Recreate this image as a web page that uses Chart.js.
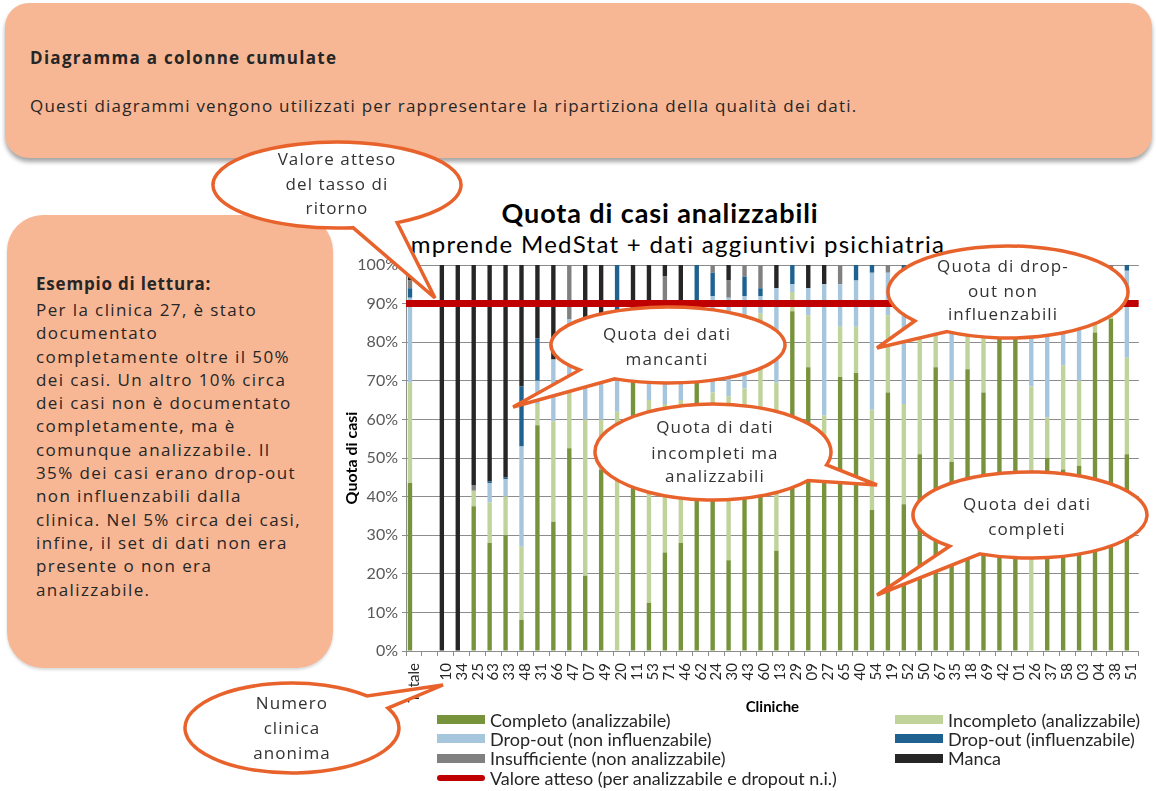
<!DOCTYPE html>
<html lang="it">
<head>
<meta charset="utf-8">
<title>Quota di casi analizzabili</title>
<script src="https://cdn.jsdelivr.net/npm/chart.js@4.4.1/dist/chart.umd.min.js"></script>
<style>
  body { margin: 0; width: 1156px; height: 791px; position: relative; overflow: hidden; background: #fff; font-family: "Open Sans", sans-serif; color: #262626; }
  .box { position: absolute; background: #f7b795; }
  #intro { left: 5px; top: 3px; width: 1147px; height: 155px; border-radius: 24px; box-shadow: 0 4px 4px rgba(0,0,0,0.35); }
  #intro .head { position: absolute; left: 25px; top: 43px; font-size: 17px; font-weight: 700; letter-spacing: 1.3px; line-height: 24px; }
  #intro .text { position: absolute; left: 25px; top: 91px; font-size: 17px; letter-spacing: 1.2px; line-height: 24px; }
  #example { left: 7px; top: 215px; width: 326px; height: 453px; border-radius: 36px; box-shadow: 0 2px 3px rgba(0,0,0,0.15); }
  #example .head { position: absolute; left: 29px; top: 57px; font-size: 17px; font-weight: 700; letter-spacing: 0.8px; line-height: 24px; }
  #example .text { position: absolute; left: 29px; top: 83px; font-size: 17px; letter-spacing: 1.4px; line-height: 23.3px; white-space: nowrap; }
  .chart-title { position: absolute; left: 300px; width: 720px; text-align: center; font-family: Lato, sans-serif; color: #000; }
  #title { top: 197px; font-size: 27px; font-weight: 700; letter-spacing: 0.9px; line-height: 32px; }
  #subtitle { top: 229px; left: 302px; font-size: 24px; letter-spacing: 1.3px; line-height: 30px; }
  #chart { position: absolute; left: 335px; top: 250px; }
  #legend { position: absolute; left: 437px; top: 710px; display: grid; grid-template-columns: 458px auto; font-family: Lato, sans-serif; font-size: 18px; color: #262626; }
  #legend .item { height: 19.3px; display: flex; align-items: center; white-space: nowrap; }
  #legend .swatch { width: 48px; height: 9px; margin-right: 5px; flex: none; }
  #legend .swatch.line { height: 6px; border-radius: 3px; }
  #notes { position: absolute; left: 0; top: 0; }
</style>
</head>
<body>

<div class="box" id="intro">
  <div class="head">Diagramma a colonne cumulate</div>
  <div class="text">Questi diagrammi vengono utilizzati per rappresentare la ripartiziona della qualità dei dati.</div>
</div>

<div class="box" id="example">
  <div class="head">Esempio di lettura:</div>
  <div class="text">Per la clinica 27, è stato<br>documentato<br>completamente oltre il 50%<br>dei casi. Un altro 10% circa<br>dei casi non è documentato<br>completamente, ma è<br>comunque analizzabile. Il<br>35% dei casi erano drop-out<br>non influenzabili dalla<br>clinica. Nel 5% circa dei casi,<br>infine, il set di dati non era<br>presente o non era<br>analizzabile.</div>
</div>

<div class="chart-title" id="title">Quota di casi analizzabili</div>
<div class="chart-title" id="subtitle">Comprende MedStat + dati aggiuntivi psichiatria</div>

<canvas id="chart" width="821" height="541"></canvas>
<div id="legend"></div>
<svg id="notes" width="1156" height="791"></svg>

<script>
// cliniche (anonime) in ordine di visualizzazione
const clinics = ['Totale', '', '10', '34', '25', '63', '33', '48', '31', '66', '47', '07', '49', '20', '11', '53',
  '71', '46', '62', '24', '30', '43', '60', '13', '29', '09', '27', '65', '40', '54', '19', '52', '50', '67',
  '35', '18', '69', '42', '01', '26', '37', '58', '03', '04', '38', '51'];

// quote in % per clinica
const completo = [43.5, 0, 0, 0, 37.5, 28, 30, 8, 58.5, 33.5, 52.5, 19.5, 47, 0, 72, 12.5,
  25.5, 28, 73, 62, 23.5, 60, 60, 26, 88, 73.5, 52, 71, 72, 36.5, 67, 38, 51, 73.5,
  49, 73, 67, 82, 81, 0, 50, 47, 48, 82.5, 86, 51];
const incompleto = [26, 0, 0, 0, 4, 10.5, 10, 19, 5.5, 26, 14.5, 40.5, 13, 62, 4, 52.5,
  38.5, 37, 3, 5, 42.5, 8, 27.5, 43.5, 5, 13.5, 9, 13, 12, 26, 20, 26, 33, 12,
  21, 10, 16, 6, 8, 68.5, 10.5, 27, 22, 2, 2, 25];
const dropoutNonInfl = [22, 0, 0, 0, 0, 5, 4.5, 26, 6, 16, 19, 25, 27, 26, 11, 22,
  24, 22.5, 14, 25, 25.5, 24, 4.5, 24.5, 2, 7, 34, 11, 12, 35.5, 11, 34, 12, 12,
  26, 14, 15, 10, 9, 28, 36, 23, 27, 13, 10, 22.5];
const dropoutInfl = [2.5, 0, 0, 0, 0, 0.5, 0.5, 15.5, 11, 0, 0, 0, 0, 12, 0, 0,
  0, 0, 10, 6, 0, 5, 2, 0, 5, 0, 0, 0, 4, 2, 0, 2, 2, 0,
  0, 0, 2, 0, 0, 3.5, 0, 3, 0, 2.5, 0, 1.5];
const insufficiente = [2, 0, 0, 0, 1.5, 0, 0, 0, 0, 0, 14, 0, 0, 0, 0, 0,
  9, 0, 0, 2, 4.5, 3, 6, 0, 0, 0, 0, 5, 0, 0, 2, 0, 0, 2.5,
  0, 3, 0, 2, 0, 0, 0, 0, 0, 0, 2, 0];
const manca = [4, 0, 100, 100, 57, 56, 55, 31.5, 19, 24.5, 0, 15, 13, 0, 13, 13,
  3, 12.5, 0, 0, 4, 0, 0, 6, 0, 6, 5, 0, 0, 0, 0, 0, 2, 0,
  4, 0, 0, 0, 2, 0, 3.5, 0, 3, 0, 0, 0];

// valore atteso per analizzabili + drop-out non influenzabili
const valoreAtteso = 90;
const yTicks = [0, 10, 20, 30, 40, 50, 60, 70, 80, 90, 100];

const gridColor = '#8c8c8c';

function barSet(label, data, color) {
    return {
        label: label,
        data: data,
        backgroundColor: color,
        stack: 'casi',
        barPercentage: 0.55,
        categoryPercentage: 1
    };
}

const ctx = document.getElementById('chart').getContext('2d');

const chart = new Chart(ctx, {
    type: 'bar',
    data: {
        labels: clinics,
        datasets: [
            barSet('Completo (analizzabile)', completo, '#77933c'),
            barSet('Incompleto (analizzabile)', incompleto, '#c0d39a'),
            barSet('Drop-out (non influenzabile)', dropoutNonInfl, '#a5c6dc'),
            barSet('Drop-out (influenzabile)', dropoutInfl, '#1f6290'),
            barSet('Insufficiente (non analizzabile)', insufficiente, '#808080'),
            barSet('Manca', manca, '#262626'),
            {
                type: 'line',
                label: 'Valore atteso (per analizzabile e dropout n.i.)',
                data: [{ x: 0, y: valoreAtteso }, { x: 1, y: valoreAtteso }],
                xAxisID: 'xLine',
                stack: 'target',
                borderColor: '#c00000',
                backgroundColor: '#c00000',
                borderWidth: 7,
                pointRadius: 0,
                order: -1
            }
        ]
    },
    options: {
        responsive: false,
        animation: false,
        layout: {
            padding: { left: 0, top: 15, right: 14, bottom: 70 }
        },
        plugins: {
            legend: { display: false },
            title: { display: false },
            tooltip: { enabled: false }
        },
        scales: {
            x: {
                stacked: true,
                grid: { drawOnChartArea: false, offset: true, tickLength: 5, color: gridColor },
                border: { color: gridColor },
                ticks: {
                    autoSkip: false,
                    minRotation: 90,
                    maxRotation: 90,
                    padding: 7,
                    color: '#262626',
                    font: { family: 'Lato', size: 15 }
                },
                title: {
                    display: true,
                    text: 'Cliniche',
                    color: '#000',
                    font: { family: 'Lato', size: 15, weight: 'bold' },
                    padding: { top: 0, bottom: 5 }
                },
                afterFit: scale => { scale.height = 70; }
            },
            // asse orizzontale senza segni: la linea del valore atteso copre tutta l'area
            xLine: {
                type: 'linear',
                position: 'bottom',
                offset: false,
                min: 0,
                max: 1,
                grid: { display: false, drawTicks: false },
                border: { display: false },
                ticks: { display: false }
            },
            y: {
                stacked: true,
                min: 0,
                max: 100,
                afterBuildTicks: scale => { scale.ticks = yTicks.map(v => ({ value: v })); },
                ticks: {
                    callback: v => v + '%',
                    padding: 4,
                    color: '#595959',
                    font: { family: 'Lato', size: 16 }
                },
                grid: { color: gridColor, tickLength: 4 },
                border: { color: gridColor },
                title: {
                    display: true,
                    text: 'Quota di casi',
                    color: '#000',
                    font: { family: 'Lato', size: 16, weight: 'bold' },
                    padding: { top: 7, bottom: 0 }
                },
                afterFit: scale => { scale.width = 71; }
            }
        }
    }
});

// legenda su due colonne
const legend = document.getElementById('legend');
chart.data.datasets.forEach(ds => {
    const item = document.createElement('div');
    item.className = 'item';
    const sw = document.createElement('span');
    sw.className = ds.type === 'line' ? 'swatch line' : 'swatch';
    sw.style.background = ds.type === 'line' ? ds.borderColor : ds.backgroundColor;
    item.appendChild(sw);
    item.appendChild(document.createTextNode(ds.label));
    legend.appendChild(item);
});

// fumetti esplicativi
const notes = [
    { cx: 337, cy: 185, rx: 124, ry: 43, a1: 82.6, a2: 421, tip: [435, 298], x: 337, y: [158, 183, 207],
      lines: ['Valore atteso', 'del tasso di', 'ritorno'] },
    { cx: 668, cy: 345, rx: 117, ry: 38, a1: 139, a2: 477, tip: [513, 407], x: 667, y: [333, 358],
      lines: ['Quota dei dati', 'mancanti'] },
    { cx: 1008, cy: 292, rx: 120, ry: 46, a1: 141, a2: 480.5, tip: [877, 348], x: 1003, y: [265, 290, 313],
      lines: ['Quota di drop-', 'out non', 'influenzabili'] },
    { cx: 713, cy: 452, rx: 118, ry: 48, a1: 36.4, a2: 375.7, tip: [877, 485], x: 715, y: [426, 452, 475],
      lines: ['Quota di dati', 'incompleti ma', 'analizzabili'] },
    { cx: 1030, cy: 515, rx: 117, ry: 43, a1: 133.4, a2: 475.3, tip: [877, 595], x: 1027, y: [503, 528],
      lines: ['Quota dei dati', 'completi'] },
    { cx: 292, cy: 728, rx: 107, ry: 45, a1: 333.8, a2: 674.5, tip: [443, 685], x: 292, y: [702, 727, 752],
      lines: ['Numero', 'clinica', 'anonima'] }
];

const svg = document.getElementById('notes');
const NS = 'http://www.w3.org/2000/svg';

function ellipsePoint(n, deg) {
    const r = deg * Math.PI / 180;
    return [n.cx + n.rx * Math.cos(r), n.cy + n.ry * Math.sin(r)];
}

notes.forEach(n => {
    const p1 = ellipsePoint(n, n.a1);
    const p2 = ellipsePoint(n, n.a2);
    const path = document.createElementNS(NS, 'path');
    path.setAttribute('d', `M ${p1[0]} ${p1[1]} A ${n.rx} ${n.ry} 0 1 1 ${p2[0]} ${p2[1]} L ${n.tip[0]} ${n.tip[1]} Z`);
    path.setAttribute('fill', '#fff');
    path.setAttribute('stroke', '#e8622c');
    path.setAttribute('stroke-width', '3.5');
    svg.appendChild(path);

    n.lines.forEach((line, i) => {
        const t = document.createElementNS(NS, 'text');
        t.setAttribute('x', n.x);
        t.setAttribute('y', n.y[i]);
        t.setAttribute('text-anchor', 'middle');
        t.setAttribute('dominant-baseline', 'central');
        t.setAttribute('font-family', 'Open Sans, sans-serif');
        t.setAttribute('font-size', '17');
        t.setAttribute('letter-spacing', '1.1');
        t.setAttribute('fill', '#333');
        t.textContent = line;
        svg.appendChild(t);
    });
});
</script>
</body>
</html>
